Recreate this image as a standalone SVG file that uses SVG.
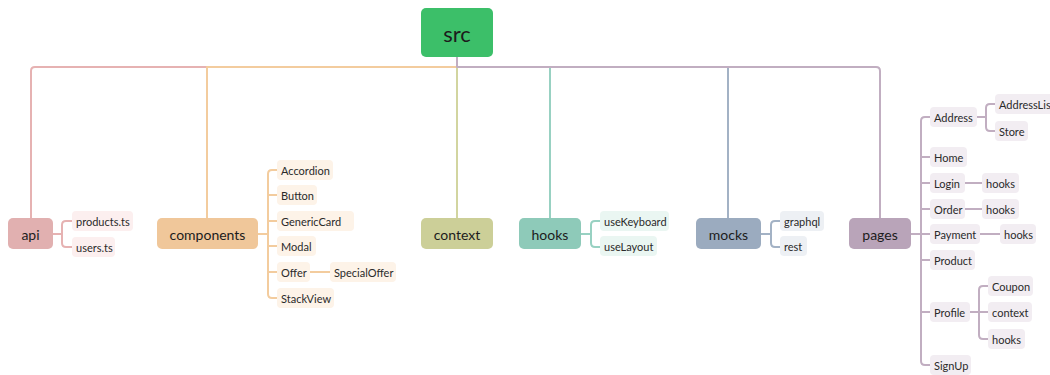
<svg xmlns="http://www.w3.org/2000/svg" width="1050" height="375" viewBox="0 0 1050 375">
  <style>
    .line { fill: none; stroke-width: 2; stroke-linecap: round; stroke-linejoin: round; }
    .root-text { font-family: Lato, "Liberation Sans", sans-serif; font-size: 14px; fill: #1c1c1c; text-anchor: middle; dominant-baseline: central; }
    .leaf-text { font-family: Lato, "Liberation Sans", sans-serif; font-size: 11px; fill: #2a2a2a; dominant-baseline: central; }
    .c-api { stroke: #e6b2b2; }
    .c-comp { stroke: #f3cc9e; }
    .c-ctx { stroke: #d2d5a0; }
    .c-hooks { stroke: #98d1c2; }
    .c-mocks { stroke: #a3b2c5; }
    .c-pages { stroke: #c1aec1; }
    .b-api { fill: #fcefef; }
    .b-comp { fill: #fdf3e8; }
    .b-hooks { fill: #eaf6f2; }
    .b-mocks { fill: #edf0f4; }
    .b-pages { fill: #f2edf2; }
  </style>

  <!-- connectors -->
  <g id="connectors">
    <!-- top bus -->
    <path class="line c-api" d="M31,218 V71 Q31,67 35,67 H207"/>
    <path class="line c-comp" d="M207,218 V67 H457"/>
    <path class="line c-ctx" d="M457,218 V68"/>
    <path class="line c-hooks" d="M550,218 V68"/>
    <path class="line c-mocks" d="M728,218 V68"/>
    <path class="line c-pages" d="M457,57 V67 H876 Q880,67 880,71 V218"/>

    <!-- api children -->
    <path class="line c-api" d="M53,234 H62 M72,221 H66 Q62,221 62,225 V243 Q62,247 66,247 H72"/>

    <!-- components children -->
    <path class="line c-comp" d="M258,234 H268 M277,170 H272 Q268,170 268,174 V294 Q268,298 272,298 H277 M268,195 H277 M268,221 H277 M268,246 H277 M268,272 H277 M310,272 H330"/>

    <!-- hooks children -->
    <path class="line c-hooks" d="M581,234 H591 M600,221 H595 Q591,221 591,225 V243 Q591,247 595,247 H600"/>

    <!-- mocks children -->
    <path class="line c-mocks" d="M761,234 H771 M780,221 H775 Q771,221 771,225 V243 Q771,247 775,247 H780"/>

    <!-- pages children -->
    <path class="line c-pages" d="M911,234 H921 M930,117 H925 Q921,117 921,121 V361 Q921,365 925,365 H930 M921,157 H930 M921,183 H930 M921,209 H930 M921,234 H930 M921,260 H930 M921,312 H930"/>
    <path class="line c-pages" d="M977,117 H986 M995,104 H990 Q986,104 986,108 V127 Q986,131 990,131 H995"/>
    <path class="line c-pages" d="M965,183 H982 M965,209 H982 M980,234 H1000"/>
    <path class="line c-pages" d="M970,312 H979 M988,286 H983 Q979,286 979,290 V335 Q979,339 983,339 H988 M979,312 H988"/>
  </g>

  <!-- root -->
  <g id="node-src">
    <rect x="421" y="8" width="72" height="49" rx="5" fill="#3cbf69"/>
    <text x="457" y="33" class="root-text" style="font-size:22px">src</text>
  </g>

  <!-- top-level folders -->
  <g id="node-api">
    <rect x="8" y="218" width="45" height="31" rx="5" fill="#e1b0b0"/>
    <text x="30.5" y="234" class="root-text">api</text>
  </g>
  <g id="node-components">
    <rect x="157" y="218" width="101" height="31" rx="5" fill="#f0c79a"/>
    <text x="207.5" y="234" class="root-text">components</text>
  </g>
  <g id="node-context">
    <rect x="421" y="218" width="72" height="31" rx="5" fill="#cccf98"/>
    <text x="457" y="234" class="root-text">context</text>
  </g>
  <g id="node-hooks">
    <rect x="519" y="218" width="62" height="31" rx="5" fill="#8ecab9"/>
    <text x="550" y="234" class="root-text">hooks</text>
  </g>
  <g id="node-mocks">
    <rect x="696" y="218" width="65" height="31" rx="5" fill="#9babbf"/>
    <text x="728.5" y="234" class="root-text">mocks</text>
  </g>
  <g id="node-pages">
    <rect x="849" y="218" width="62" height="31" rx="5" fill="#b9a4b9"/>
    <text x="880" y="234" class="root-text">pages</text>
  </g>

  <!-- api leaves -->
  <g id="node-products-ts"><rect class="b-api" x="72" y="211" width="61" height="20" rx="4"/><text class="leaf-text" x="76" y="221">products.ts</text></g>
  <g id="node-users-ts"><rect class="b-api" x="72" y="237" width="43" height="20" rx="4"/><text class="leaf-text" x="76" y="247">users.ts</text></g>

  <!-- components leaves -->
  <g id="node-accordion"><rect class="b-comp" x="277" y="160" width="56" height="20" rx="4"/><text class="leaf-text" x="281" y="170">Accordion</text></g>
  <g id="node-button"><rect class="b-comp" x="277" y="185" width="40" height="20" rx="4"/><text class="leaf-text" x="281" y="195">Button</text></g>
  <g id="node-genericcard"><rect class="b-comp" x="277" y="211" width="77" height="20" rx="4"/><text class="leaf-text" x="281" y="221">GenericCard</text></g>
  <g id="node-modal"><rect class="b-comp" x="277" y="236" width="39" height="20" rx="4"/><text class="leaf-text" x="281" y="246">Modal</text></g>
  <g id="node-offer"><rect class="b-comp" x="277" y="262" width="33" height="20" rx="4"/><text class="leaf-text" x="281" y="272">Offer</text></g>
  <g id="node-specialoffer"><rect class="b-comp" x="330" y="262" width="66" height="20" rx="4"/><text class="leaf-text" x="334" y="272">SpecialOffer</text></g>
  <g id="node-stackview"><rect class="b-comp" x="277" y="288" width="57" height="20" rx="4"/><text class="leaf-text" x="281" y="298">StackView</text></g>

  <!-- hooks leaves -->
  <g id="node-usekeyboard"><rect class="b-hooks" x="600" y="211" width="69" height="20" rx="4"/><text class="leaf-text" x="604" y="221">useKeyboard</text></g>
  <g id="node-uselayout"><rect class="b-hooks" x="600" y="236" width="57" height="20" rx="4"/><text class="leaf-text" x="604" y="246">useLayout</text></g>

  <!-- mocks leaves -->
  <g id="node-graphql"><rect class="b-mocks" x="780" y="211" width="44" height="20" rx="4"/><text class="leaf-text" x="784" y="221">graphql</text></g>
  <g id="node-rest"><rect class="b-mocks" x="780" y="236" width="27" height="20" rx="4"/><text class="leaf-text" x="784" y="246">rest</text></g>

  <!-- pages leaves -->
  <g id="node-address"><rect class="b-pages" x="930" y="107" width="47" height="20" rx="4"/><text class="leaf-text" x="934" y="117">Address</text></g>
  <g id="node-addresslist"><rect class="b-pages" x="995" y="94" width="62" height="20" rx="4"/><text class="leaf-text" x="999" y="104">AddressList</text></g>
  <g id="node-store"><rect class="b-pages" x="995" y="121" width="33" height="20" rx="4"/><text class="leaf-text" x="999" y="131">Store</text></g>
  <g id="node-home"><rect class="b-pages" x="930" y="147" width="37" height="20" rx="4"/><text class="leaf-text" x="934" y="157">Home</text></g>
  <g id="node-login"><rect class="b-pages" x="930" y="173" width="35" height="20" rx="4"/><text class="leaf-text" x="934" y="183">Login</text></g>
  <g id="node-login-hooks"><rect class="b-pages" x="982" y="173" width="37" height="20" rx="4"/><text class="leaf-text" x="986" y="183">hooks</text></g>
  <g id="node-order"><rect class="b-pages" x="930" y="199" width="35" height="20" rx="4"/><text class="leaf-text" x="934" y="209">Order</text></g>
  <g id="node-order-hooks"><rect class="b-pages" x="982" y="199" width="37" height="20" rx="4"/><text class="leaf-text" x="986" y="209">hooks</text></g>
  <g id="node-payment"><rect class="b-pages" x="930" y="224" width="50" height="20" rx="4"/><text class="leaf-text" x="934" y="234">Payment</text></g>
  <g id="node-payment-hooks"><rect class="b-pages" x="1000" y="224" width="36" height="20" rx="4"/><text class="leaf-text" x="1004" y="234">hooks</text></g>
  <g id="node-product"><rect class="b-pages" x="930" y="250" width="45" height="20" rx="4"/><text class="leaf-text" x="934" y="260">Product</text></g>
  <g id="node-profile"><rect class="b-pages" x="930" y="302" width="40" height="20" rx="4"/><text class="leaf-text" x="934" y="312">Profile</text></g>
  <g id="node-coupon"><rect class="b-pages" x="988" y="276" width="45" height="20" rx="4"/><text class="leaf-text" x="992" y="286">Coupon</text></g>
  <g id="node-profile-context"><rect class="b-pages" x="988" y="302" width="44" height="20" rx="4"/><text class="leaf-text" x="992" y="312">context</text></g>
  <g id="node-profile-hooks"><rect class="b-pages" x="988" y="329" width="37" height="20" rx="4"/><text class="leaf-text" x="992" y="339">hooks</text></g>
  <g id="node-signup"><rect class="b-pages" x="930" y="355" width="41" height="20" rx="4"/><text class="leaf-text" x="934" y="365">SignUp</text></g>
</svg>
